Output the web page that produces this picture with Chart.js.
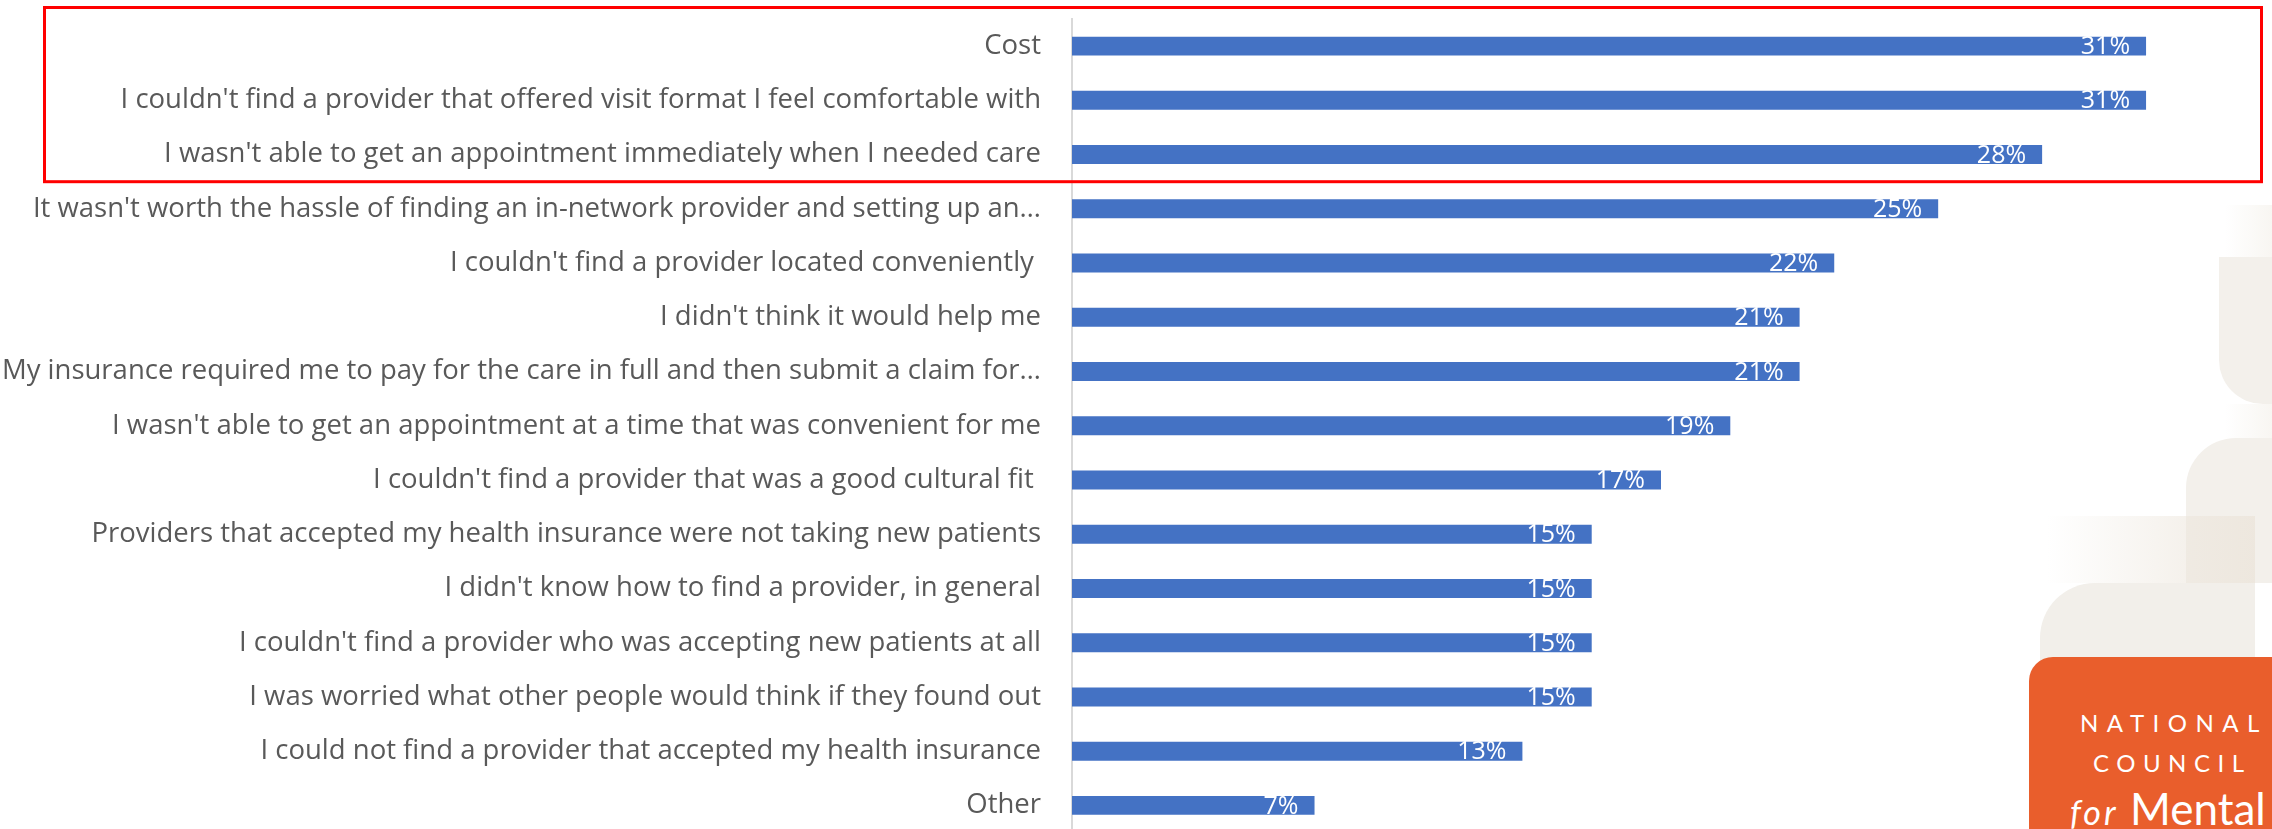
<!DOCTYPE html>
<html lang="en">
<head>
    <meta charset="UTF-8">
    <title>Barriers to care</title>
    <script src="https://cdn.jsdelivr.net/npm/chart.js"></script>
    <style>
        body {
            margin: 0;
            width: 2272px;
            height: 829px;
            overflow: hidden;
            background: #ffffff;
            font-family: Lato, sans-serif;
            position: relative;
        }
        .deco { position: absolute; z-index: 0; }
        #chartBox {
            position: absolute;
            left: 0;
            top: 0;
            width: 2272px;
            height: 849px;
            z-index: 1;
        }
        #logo {
            position: absolute;
            left: 2029px;
            top: 657px;
            width: 260px;
            height: 200px;
            background: #E95E2C;
            border-top-left-radius: 24px;
            color: #ffffff;
            z-index: 2;
        }
        #logo div { position: absolute; line-height: 1; white-space: nowrap; font-family: Lato, sans-serif; }
    </style>
</head>
<body>
    <!-- decorative background shapes on the right -->
    <div class="deco" style="left:2225px;top:205px;width:47px;height:53px;background:linear-gradient(to right, rgba(248,246,242,0), #F8F6F2);"></div>
    <div class="deco" style="left:2219px;top:257px;width:53px;height:147px;background:#F3F0EB;border-bottom-left-radius:44px;"></div>
    <div class="deco" style="left:2225px;top:404px;width:47px;height:34px;background:linear-gradient(to right, rgba(248,246,242,0), #F8F6F2);"></div>
    <div class="deco" style="left:2186px;top:438px;width:86px;height:145px;background:#F3F0EB;border-top-left-radius:50px;"></div>
    <div class="deco" style="left:2047px;top:516px;width:208px;height:67px;background:linear-gradient(to right, rgba(236,229,219,0), rgba(236,229,219,0.8));"></div>
    <div class="deco" style="left:2040px;top:583px;width:215px;height:80px;background:#F2EFEA;border-top-left-radius:55px;"></div>

    <div id="chartBox"><canvas id="chart"></canvas></div>

    <div id="logo">
        <div style="left:51px;top:54px;font-size:24px;letter-spacing:8.5px;">NATIONAL</div>
        <div style="left:64px;top:94px;font-size:24px;letter-spacing:7.5px;">COUNCIL</div>
        <div style="left:41px;top:138px;font-size:34px;font-style:italic;letter-spacing:3px;">for</div>
        <div style="left:101px;top:129px;font-size:44px;">Mental</div>
    </div>

    <script>
        // Datos del gráfico
        const categories = [
            "Cost",
            "I couldn't find a provider that offered visit format I feel comfortable with",
            "I wasn't able to get an appointment immediately when I needed care",
            "It wasn't worth the hassle of finding an in-network provider and setting up an\u2026",
            "I couldn't find a provider located conveniently ",
            "I didn't think it would help me",
            "My insurance required me to pay for the care in full and then submit a claim for\u2026",
            "I wasn't able to get an appointment at a time that was convenient for me",
            "I couldn't find a provider that was a good cultural fit ",
            "Providers that accepted my health insurance were not taking new patients",
            "I didn't know how to find a provider, in general",
            "I couldn't find a provider who was accepting new patients at all",
            "I was worried what other people would think if they found out",
            "I could not find a provider that accepted my health insurance",
            "Other"
        ];
        const percentValues = [31, 31, 28, 25, 22, 21, 21, 19, 17, 15, 15, 15, 15, 13, 7];

        // etiquetas blancas dentro del final de cada barra
        const barLabels = {
            id: 'barLabels',
            afterDatasetsDraw(chart) {
                const ctx = chart.ctx;
                const meta = chart.getDatasetMeta(0);
                ctx.save();
                ctx.fillStyle = '#ffffff';
                ctx.font = '25px "Open Sans"';
                ctx.textAlign = 'right';
                ctx.textBaseline = 'middle';
                meta.data.forEach((bar, i) => {
                    ctx.fillText(percentValues[i] + '%', bar.x - 16, bar.y + 1);
                });
                ctx.restore();
            }
        };

        // recuadro rojo alrededor de las tres primeras filas
        const highlightBox = {
            id: 'highlightBox',
            afterDraw(chart) {
                const y = chart.scales.y;
                const bottom = (y.getPixelForValue(2) + y.getPixelForValue(3)) / 2;
                const ctx = chart.ctx;
                ctx.save();
                ctx.strokeStyle = '#FF0000';
                ctx.lineWidth = 3;
                ctx.strokeRect(44.5, 7.5, 2217, bottom - 7.5);
                ctx.restore();
            }
        };

        new Chart(document.getElementById('chart').getContext('2d'), {
            type: 'bar',
            data: {
                labels: categories,
                datasets: [{
                    data: percentValues,
                    backgroundColor: '#4472C4',
                    barPercentage: 0.35,
                    categoryPercentage: 1
                }]
            },
            options: {
                indexAxis: 'y',
                responsive: true,
                maintainAspectRatio: false,
                animation: false,
                layout: { padding: { top: 19, bottom: 8, right: 22, left: 0 } },
                plugins: {
                    legend: { display: false },
                    tooltip: { enabled: false }
                },
                scales: {
                    x: { display: false, min: 0, max: 34 },
                    y: {
                        grid: {
                            display: true,
                            drawOnChartArea: false,
                            drawTicks: true,
                            tickLength: 31,
                            color: 'rgba(0,0,0,0)'
                        },
                        border: { display: true, color: '#D9D9D9', width: 2 },
                        ticks: {
                            color: '#595959',
                            font: { family: 'Open Sans', size: 27.5 },
                            padding: 0,
                            autoSkip: false
                        },
                        afterFit(scale) { scale.width = 1072; }
                    }
                }
            },
            plugins: [barLabels, highlightBox]
        });
    </script>
</body>
</html>
